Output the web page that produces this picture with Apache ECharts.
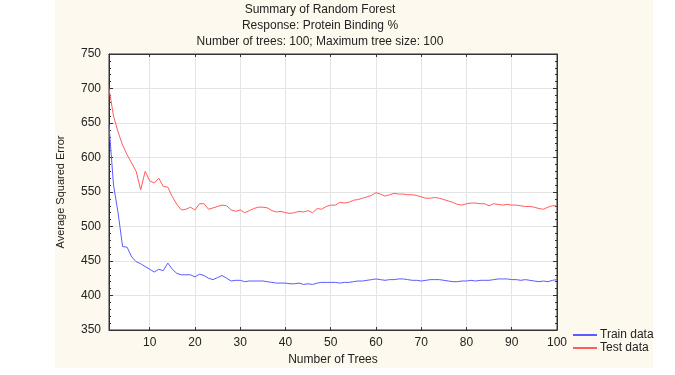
<!DOCTYPE html>
<html>
<head>
<meta charset="utf-8">
<script src="https://cdn.jsdelivr.net/npm/echarts@6/dist/echarts.min.js"></script>
<style>
  html, body { margin: 0; padding: 0; background: #fff; }
  #chart { width: 675px; height: 375px; }
</style>
</head>
<body>
<div id="chart"></div>
<script>
// 数据：树的数量 1..100
const trees = [];
for (let i = 1; i <= 100; i++) trees.push(i);

const trainData = [
  647, 560, 520, 471, 470, 456, 449, 446, 442, 438,
  434, 438, 436, 447, 438, 432, 430, 430, 430, 427,
  431, 429, 425, 423, 426, 429, 425, 421, 422, 422,
  420, 421, 421, 421, 421, 420, 419, 418, 418, 418,
  417, 417, 418, 416, 417, 416, 418, 419, 419, 419,
  419, 418, 419, 419, 420, 421, 421, 422, 423, 424,
  423, 422, 423, 423, 424, 424, 423, 422, 422, 421,
  422, 423, 423, 423, 422, 421, 420, 420, 421, 421,
  422, 421, 422, 422, 422, 423, 424, 424, 424, 423,
  423, 422, 423, 422, 421, 420, 421, 420, 422, 423
];

const testData = [
  700, 660, 637, 618, 604, 592, 580, 553, 580, 566,
  563, 570, 558, 557, 543, 532, 524, 525, 528, 524,
  533, 533, 525, 527, 529, 531, 530, 524, 522, 524,
  520, 523, 526, 528, 528, 527, 523, 521, 522, 520,
  519, 520, 522, 521, 523, 520, 526, 525, 529, 531,
  531, 535, 534, 535, 538, 539, 541, 543, 545, 549,
  547, 544, 546, 548, 547, 547, 546, 546, 545, 543,
  541, 541, 542, 541, 539, 537, 535, 532, 531, 533,
  534, 534, 533, 533, 530, 533, 532, 531, 532, 531,
  531, 530, 529, 529, 528, 526, 525, 528, 530, 530
];

const xTicks = [10, 20, 30, 40, 50, 60, 70, 80, 90, 100];
const titleLines = [
  'Summary of Random Forest',
  'Response: Protein Binding %',
  'Number of trees: 100; Maximum tree size: 100'
];

const chart = echarts.init(document.getElementById('chart'));
const font = 'Liberation Sans, Arial, sans-serif';

const option = {
  backgroundColor: '#fff',
  animation: false,
  textStyle: { fontFamily: font },
  // 奶油色背景区域
  graphic: [
    {
      type: 'rect',
      z: -10,
      silent: true,
      shape: { x: 55, y: 0, width: 598, height: 368 },
      style: { fill: '#fef9ee' }
    }
  ],
  title: {
    text: titleLines.join('\n'),
    left: 315,
    top: -3,
    textAlign: 'center',
    textStyle: {
      fontFamily: font,
      fontSize: 12,
      fontWeight: 'normal',
      color: '#222',
      lineHeight: 16
    }
  },
  legend: {
    orient: 'vertical',
    left: 567,
    top: 324,
    itemWidth: 24,
    itemHeight: 2,
    itemGap: 1,
    data: ['Train data', 'Test data'],
    textStyle: { fontFamily: font, fontSize: 12, color: '#222', padding: [0, 0, 0, -2] }
  },
  grid: {
    left: 109,
    right: 118,
    top: 54,
    bottom: 45,
    show: true,
    backgroundColor: '#fff',
    borderColor: '#333',
    borderWidth: 1
  },
  xAxis: [
    {
      type: 'value',
      min: 1,
      max: 100,
      name: 'Number of Trees',
      nameLocation: 'middle',
      nameGap: 24,
      nameTextStyle: { fontFamily: font, fontSize: 12, color: '#222' },
      axisLine: { show: true, lineStyle: { color: '#333' } },
      axisTick: { show: true, inside: true, length: 3, customValues: xTicks, lineStyle: { color: '#333' } },
      axisLabel: { customValues: xTicks, fontSize: 12, color: '#222', margin: 7 },
      splitLine: { show: true, lineStyle: { color: '#e4e4e4', width: 1 } }
    },
    {
      type: 'value',
      position: 'top',
      min: 1,
      max: 100,
      axisLine: { show: true, lineStyle: { color: '#333' } },
      axisTick: { show: true, inside: true, length: 3, customValues: xTicks, lineStyle: { color: '#333' } },
      axisLabel: { show: false },
      splitLine: { show: false }
    }
  ],
  yAxis: [
    {
      type: 'value',
      min: 350,
      max: 750,
      interval: 50,
      name: 'Average Squared Error',
      nameLocation: 'middle',
      nameGap: 43,
      nameTextStyle: { fontFamily: font, fontSize: 11, color: '#222' },
      axisLine: { show: true, lineStyle: { color: '#333' } },
      axisTick: { show: true, inside: true, length: 4, lineStyle: { color: '#333' } },
      minorTick: { show: true, splitNumber: 5, length: 2, lineStyle: { color: '#333' } },
      axisLabel: { fontSize: 12, color: '#222', margin: 8 },
      splitLine: { show: true, lineStyle: { color: '#e4e4e4', width: 1 } }
    },
    {
      type: 'value',
      position: 'right',
      min: 350,
      max: 750,
      interval: 50,
      axisLine: { show: true, lineStyle: { color: '#333' } },
      axisTick: { show: true, inside: true, length: 4, lineStyle: { color: '#333' } },
      minorTick: { show: true, splitNumber: 5, length: 2, lineStyle: { color: '#333' } },
      axisLabel: { show: false },
      splitLine: { show: false }
    }
  ],
  series: [
    {
      name: 'Train data',
      type: 'line',
      symbol: 'none',
      data: trees.map((t, i) => [t, trainData[i]]),
      lineStyle: { color: '#5b5bff', width: 1 },
      itemStyle: { color: '#5b5bff' }
    },
    {
      name: 'Test data',
      type: 'line',
      symbol: 'none',
      data: trees.map((t, i) => [t, testData[i]]),
      lineStyle: { color: '#ff5c5c', width: 1 },
      itemStyle: { color: '#ff5c5c' }
    }
  ]
};

chart.setOption(option);
</script>
</body>
</html>
